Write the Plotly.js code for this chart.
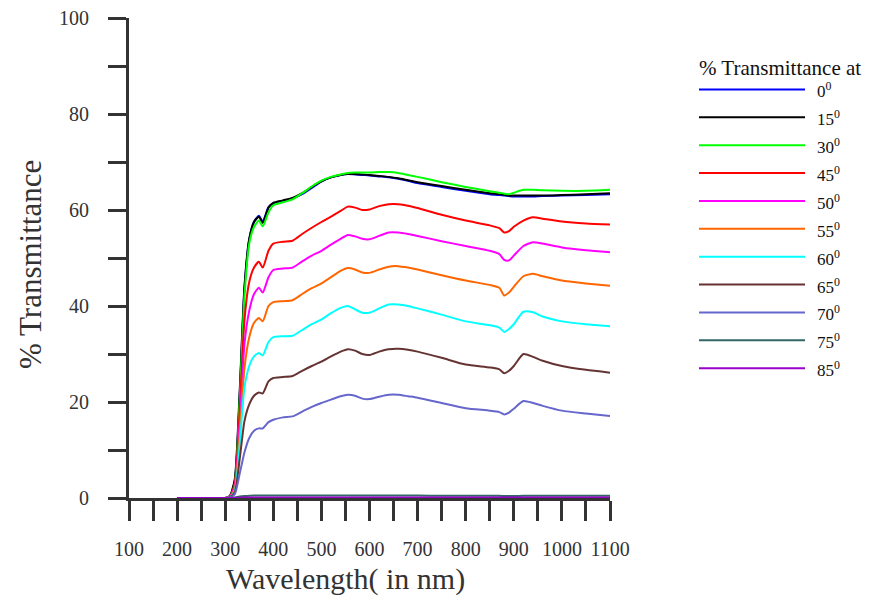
<!DOCTYPE html>
<html>
<head>
<meta charset="utf-8">
<script src="https://cdn.plot.ly/plotly-3.0.1.min.js"></script>
<style>html,body{margin:0;padding:0;background:#fff;}#chart{width:871px;height:597px;}</style>
</head>
<body>
<div id="chart"></div>
<script>
// Wavelength (nm)
const wavelength = [200,300,310,320,330,340,350,360,370,378,390,400,420,440,460,480,500,520,540,555,570,585,600,620,640,660,680,700,750,800,850,870,880,890,900,920,940,960,1000,1050,1100];

const angleLabels = ['0','15','30','45','50','55','60','65','70','75','85'];
const lineColors = ['#0000ff','#000000','#00ff00','#ff0000','#ff00ff','#ff6600','#00ffff','#663333','#6666cc','#336666','#9900cc'];

// % Transmittance at each angle
const t0  = [0,0,0.4,3.5,21,43.5,53.8,57.6,58.8,57.6,60.6,61.4,61.9,62.4,63.3,64.6,65.9,66.8,67.3,67.5,67.4,67.3,67.2,67,66.8,66.5,66.1,65.6,64.8,64,63.3,63.1,63,62.9,62.8,62.8,62.8,62.9,63,63.1,63.3];
const t15 = [0,0,0.5,4,22,44,54,57.5,58.6,57.3,60.5,61.5,62,62.5,63.5,64.8,66,66.8,67.3,67.5,67.5,67.4,67.3,67.1,66.9,66.6,66.2,65.8,65,64.2,63.5,63.3,63.2,63,63,63,63,63,63.1,63.3,63.5];
const t30 = [0,0,0.3,3,20,42,53,56.5,57.8,56.6,59.5,61,61.6,62.2,63.5,64.9,66.1,66.9,67.4,67.7,67.8,67.8,67.8,67.9,67.9,67.7,67.3,66.9,65.8,64.8,63.9,63.6,63.4,63.3,63.6,64.2,64.2,64.1,64,64,64.2];
const t45 = [0,0,0.3,3,18,37,45,48,49.2,48,51.5,53,53.4,53.6,55,56.3,57.5,58.6,59.8,60.7,60.5,60,60.1,60.8,61.2,61.2,60.9,60.4,59,57.8,56.8,56.2,55.3,55.6,56.5,57.8,58.5,58.2,57.6,57.2,57];
const t50 = [0,0,0.3,2.5,15,32,39,42.5,43.8,42.8,46,47.5,47.8,48,49.3,50.5,51.5,52.8,54,54.8,54.5,54,53.9,54.6,55.3,55.3,55,54.6,53.5,52.5,51.5,50.8,49.6,49.5,50.5,52.5,53.3,53,52.2,51.6,51.2];
const t55 = [0,0,0.2,2,13,27,33.5,36.5,37.5,36.8,40,40.8,41,41.2,42.5,43.7,44.7,46,47.3,47.9,47.6,47,46.9,47.6,48.2,48.3,48,47.6,46.4,45.3,44.4,43.8,42.2,42.8,44,46.2,46.7,46.2,45.3,44.7,44.2];
const t60 = [0,0,0.2,1.5,11,23,27.5,29.5,30.2,29.7,32.5,33.5,33.7,33.8,35,36.2,37.2,38.5,39.6,40,39.3,38.6,38.6,39.5,40.3,40.3,40,39.5,38.2,36.8,36,35.5,34.6,35.2,36.2,38.8,38.7,37.8,36.8,36.2,35.8];
const t65 = [0,0,0.2,1.2,8,16,19.5,21.3,22,21.8,24.3,25,25.2,25.4,26.5,27.5,28.4,29.5,30.5,31,30.7,30,29.8,30.5,31,31.1,30.9,30.5,29.2,27.8,27.2,26.8,26,26.5,27.5,30,29.4,28.6,27.5,26.7,26.1];
const t70 = [0,0,0.1,0.8,5,9.5,12.5,14,14.5,14.5,15.8,16.3,16.8,17,18,19,19.8,20.5,21.2,21.5,21.3,20.7,20.6,21.1,21.5,21.5,21.2,20.9,19.8,18.7,18.2,17.9,17.4,17.8,18.6,20.2,19.8,19.2,18.2,17.6,17.1];
const t75 = [0,0,0,0.1,0.3,0.4,0.45,0.5,0.5,0.5,0.5,0.5,0.5,0.5,0.5,0.5,0.5,0.5,0.5,0.5,0.5,0.5,0.5,0.5,0.5,0.5,0.5,0.5,0.45,0.45,0.45,0.45,0.4,0.4,0.4,0.45,0.45,0.45,0.45,0.45,0.45];
const t85 = [0,0,0,0,0.05,0.1,0.1,0.1,0.1,0.1,0.1,0.1,0.1,0.1,0.1,0.1,0.1,0.1,0.1,0.1,0.1,0.1,0.1,0.1,0.1,0.1,0.1,0.1,0.1,0.1,0.1,0.1,0.1,0.1,0.1,0.1,0.1,0.1,0.1,0.1,0.1];

const series = [t0,t15,t30,t45,t50,t55,t60,t65,t70,t75,t85];

const traces = series.map((ys, i) => ({
  x: wavelength, y: ys, type: 'scatter', mode: 'lines',
  name: angleLabels[i] + '<sup>0</sup>',
  line: {color: lineColors[i], width: 2, shape: 'spline', smoothing: 0.6},
  cliponaxis: false, showlegend: false
}));

// plot area geometry (px) for positioning the hand-drawn legend
const L = 129, R = 610, T = 18, B = 498;
const W = R - L, H = B - T;
const px2x = p => (p - L) / W;
const px2y = p => (B - p) / H;

const shapes = [];
const annotations = [];
angleLabels.forEach((lab, i) => {
  const yp = 89.5 + 27.87 * i;
  shapes.push({type: 'line', xref: 'paper', yref: 'paper',
    x0: px2x(699), x1: px2x(805), y0: px2y(yp), y1: px2y(yp),
    line: {color: lineColors[i], width: 2}});
  annotations.push({xref: 'paper', yref: 'paper', x: px2x(815), y: px2y(yp + 1),
    xanchor: 'left', yanchor: 'middle', showarrow: false,
    text: lab + '<sup>0</sup>', font: {family: 'Liberation Serif', size: 17, color: '#111'}});
});
annotations.push({xref: 'paper', yref: 'paper', x: px2x(697), y: px2y(68),
  xanchor: 'left', yanchor: 'middle', showarrow: false,
  text: '% Transmittance at', font: {family: 'Liberation Serif', size: 21, color: '#111'}});
annotations.push({xref: 'paper', yref: 'paper', x: px2x(345), y: px2y(579),
  xanchor: 'center', yanchor: 'middle', showarrow: false,
  text: 'Wavelength( in nm)', font: {family: 'Liberation Serif', size: 30, color: '#333'}});
annotations.push({xref: 'paper', yref: 'paper', x: px2x(30), y: px2y(265),
  xanchor: 'center', yanchor: 'middle', showarrow: false, textangle: -90,
  text: '% Transmittance', font: {family: 'Liberation Serif', size: 31, color: '#333'}});

const axisCol = '#333333';
const layout = {
  width: 871, height: 597,
  margin: {l: L, r: 871 - R, t: T, b: 597 - B, pad: 0},
  paper_bgcolor: '#ffffff', plot_bgcolor: '#ffffff',
  showlegend: false,
  font: {family: 'Liberation Serif', color: axisCol},
  xaxis: {
    range: [100, 1100], showgrid: false, zeroline: false,
    showline: true, linecolor: axisCol, linewidth: 3, layer: 'below traces',
    ticks: 'outside', ticklen: 20, tickwidth: 3, tickcolor: axisCol,
    tick0: 100, dtick: 100, ticklabelstandoff: 11,
    tickfont: {family: 'Liberation Serif', size: 20, color: axisCol},
    minor: {ticks: 'outside', dtick: 50, tick0: 100, ticklen: 20, tickwidth: 3, tickcolor: axisCol, showgrid: false}
  },
  yaxis: {
    range: [0, 100], showgrid: false, zeroline: false,
    showline: true, linecolor: axisCol, linewidth: 3, layer: 'below traces',
    ticks: 'outside', ticklen: 18, tickwidth: 3, tickcolor: axisCol,
    tick0: 0, dtick: 20, ticklabelstandoff: 15,
    tickfont: {family: 'Liberation Serif', size: 20, color: axisCol},
    minor: {ticks: 'outside', dtick: 10, tick0: 0, ticklen: 18, tickwidth: 3, tickcolor: axisCol, showgrid: false}
  },
  shapes: shapes,
  annotations: annotations
};

Plotly.newPlot('chart', traces, layout, {displayModeBar: false, staticPlot: true});
</script>
</body>
</html>
